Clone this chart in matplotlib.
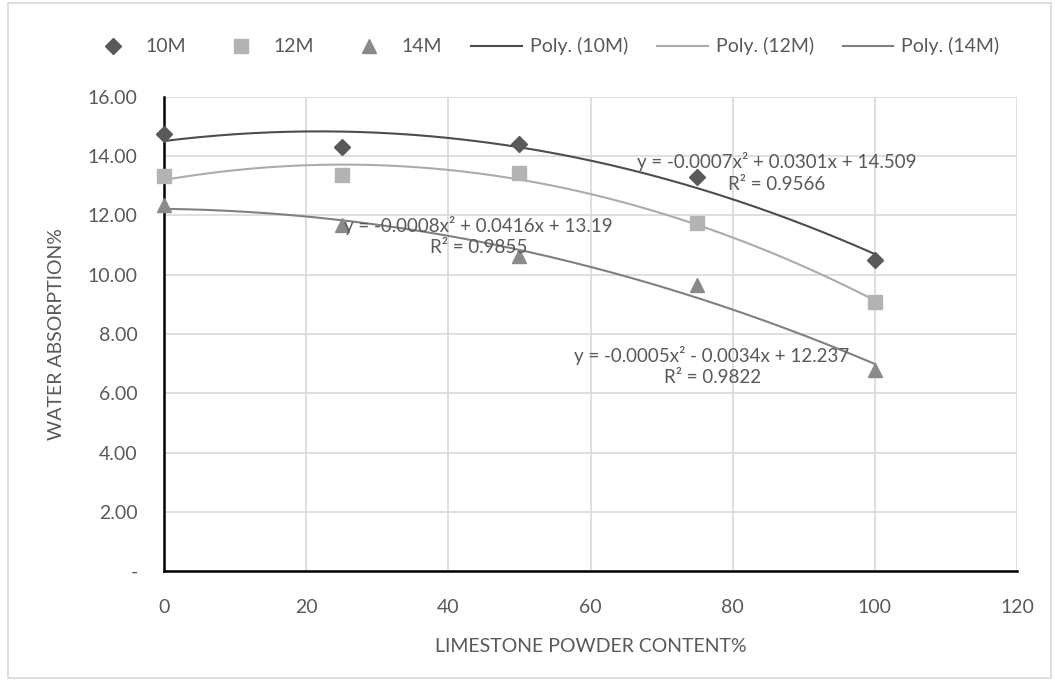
import numpy as np
import matplotlib
matplotlib.use("Agg")
import matplotlib.pyplot as plt
from matplotlib.patches import Rectangle
from matplotlib.ticker import FuncFormatter, MultipleLocator

plt.rcParams['font.family'] = ['Lato', 'DejaVu Sans']

# ---- data ----
x_content = [0, 25, 50, 75, 100]
wa_10m = [14.76, 14.30, 14.42, 13.30, 10.49]
wa_12m = [13.34, 13.36, 13.44, 11.74, 9.07]
wa_14m = [12.34, 11.68, 10.62, 9.67, 6.80]
series_names = ["10M", "12M", "14M"]
eq_labels = [
    "y = -0.0007x\u00b2 + 0.0301x + 14.509\nR\u00b2 = 0.9566",
    "y = -0.0008x\u00b2 + 0.0416x + 13.19\nR\u00b2 = 0.9855",
    "y = -0.0005x\u00b2 - 0.0034x + 12.237\nR\u00b2 = 0.9822",
]
eq_pos = [(86.2, 13.45), (44.2, 11.30), (77.1, 6.93)]

marker_colors = ["#595959", "#B3B3B3", "#8A8A8A"]
line_colors = ["#4D4D4D", "#ABABAB", "#808080"]
markers = ["D", "s", "^"]
msizes = [8, 10, 10]

fig = plt.figure(figsize=(10.55, 6.81), dpi=100)
ax = fig.add_axes([0.1555, 0.1615, 0.964 - 0.1555, 0.8576 - 0.1615])

# outer chart border
fig.patches.append(Rectangle((0.008, 0.004), 0.988, 0.992, transform=fig.transFigure,
                             fill=False, edgecolor="#D9D9D9", linewidth=1.2))

data = [wa_10m, wa_12m, wa_14m]
handles_m = []
handles_l = []
xs = np.linspace(0, 100, 200)
for i, ys in enumerate(data):
    coeffs = np.polyfit(x_content, ys, 2)
    ln, = ax.plot(xs, np.polyval(coeffs, xs), color=line_colors[i], lw=1.5, zorder=3,
                  label=f"Poly. ({series_names[i]})")
    handles_l.append(ln)
for i, ys in enumerate(data):
    sc, = ax.plot(x_content, ys, linestyle="none", marker=markers[i], ms=msizes[i],
                  color=marker_colors[i], markeredgecolor=marker_colors[i], zorder=4,
                  label=series_names[i], clip_on=False)
    handles_m.append(sc)

for i, (lbl, (px, py)) in enumerate(zip(eq_labels, eq_pos)):
    ax.text(px, py, lbl, ha="center", va="center", fontsize=13.5, color="#595959",
            linespacing=1.3, zorder=5)

ax.set_xlim(0, 120)
ax.set_ylim(0, 16)
ax.xaxis.set_major_locator(MultipleLocator(20))
ax.yaxis.set_major_locator(MultipleLocator(2))
ax.yaxis.set_major_formatter(FuncFormatter(lambda v, p: "-" if abs(v) < 1e-9 else f"{v:.2f}"))
ax.grid(True, color="#D9D9D9", linewidth=1.2)
ax.set_axisbelow(True)
for s in ["top", "right"]:
    ax.spines[s].set_visible(False)
ax.spines["left"].set_color("black")
ax.spines["left"].set_linewidth(1.8)
ax.spines["bottom"].set_color("black")
ax.spines["bottom"].set_linewidth(1.8)
ax.tick_params(length=0, labelsize=14, colors="#595959")
ax.tick_params(axis="x", pad=20)
ax.tick_params(axis="y", pad=19)

ax.set_xlabel("LIMESTONE POWDER CONTENT%", fontsize=14, color="#595959", labelpad=16)
ax.set_ylabel("WATER ABSORPTION%", fontsize=14, color="#595959", labelpad=16)

fig.legend(handles_m + handles_l, [h.get_label() for h in handles_m + handles_l],
           loc="center", bbox_to_anchor=(0.515, 0.932), ncol=6, frameon=False,
           fontsize=14, labelcolor="#595959", handlelength=2.6, columnspacing=1.5,
           handletextpad=0.4)

fig.savefig("out.png", dpi=100)
